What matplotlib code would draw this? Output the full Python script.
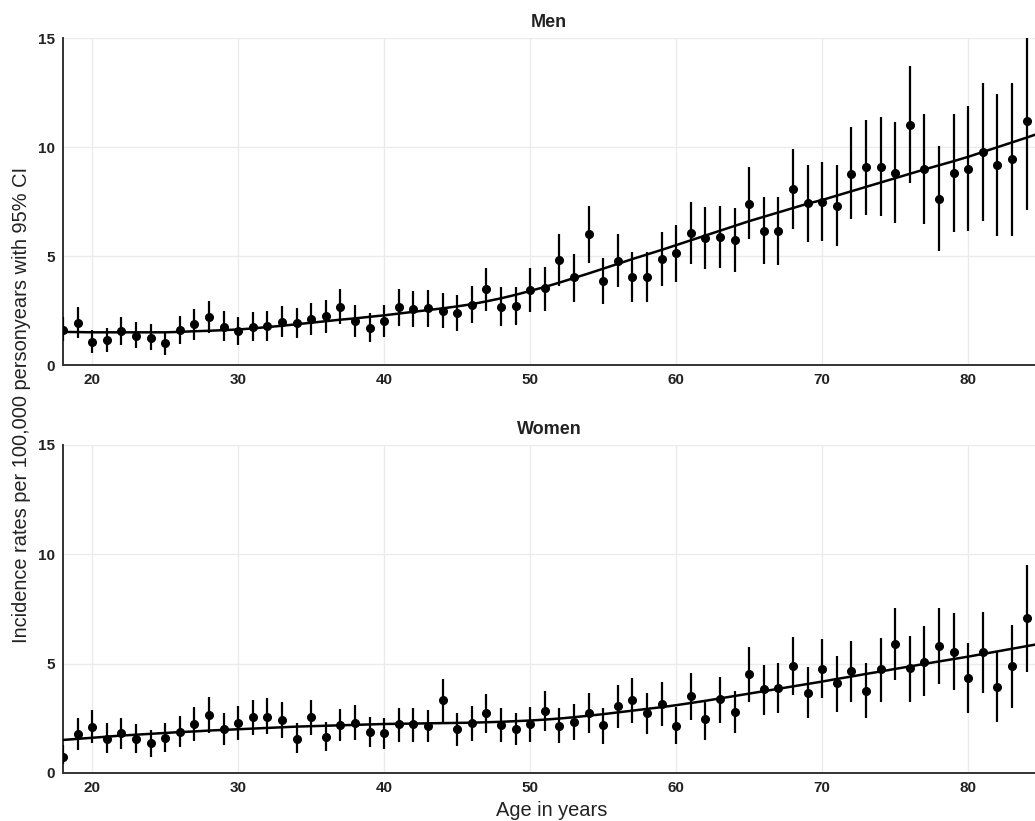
import matplotlib
matplotlib.use("Agg")
import matplotlib.pyplot as plt

plt.rcParams['font.family'] = ['Liberation Sans', 'DejaVu Sans']

# Age in years (one point per single year of age)
ages = list(range(18, 85))
# fitted curve is evaluated one year further so it runs to the panel edge
fit_ages = list(range(18, 86))

# Men: incidence per 100,000 personyears with 95% CI
men_rate = [1.6, 1.93, 1.06, 1.15, 1.56, 1.33, 1.24, 1.0, 1.6, 1.88,
            2.2, 1.74, 1.56, 1.74, 1.8, 1.97, 1.93, 2.1, 2.25, 2.66,
            2.02, 1.7, 2.02, 2.65, 2.56, 2.6, 2.5, 2.37, 2.75, 3.47,
            2.67, 2.72, 3.44, 3.52, 4.82, 4.03, 6.0, 3.85, 4.78, 4.05,
            4.05, 4.86, 5.15, 6.04, 5.81, 5.86, 5.73, 7.4, 6.16, 6.16,
            8.06, 7.42, 7.5, 7.3, 8.76, 9.07, 9.1, 8.83, 11.0, 9.0,
            7.62, 8.8, 9.0, 9.76, 9.18, 9.43, 11.2]
men_lower = [1.1, 1.24, 0.55, 0.6, 0.92, 0.78, 0.69, 0.46, 0.96, 1.15,
             1.47, 1.1, 0.92, 1.1, 1.1, 1.28, 1.24, 1.38, 1.47, 1.88,
             1.28, 1.05, 1.3, 1.79, 1.75, 1.75, 1.68, 1.56, 1.92, 2.48,
             1.8, 1.82, 2.44, 2.5, 3.62, 2.9, 4.67, 2.8, 3.56, 2.9,
             2.9, 3.62, 3.8, 4.62, 4.4, 4.43, 4.28, 5.76, 4.62, 4.6,
             6.23, 5.63, 5.69, 5.46, 6.68, 6.88, 6.83, 6.53, 8.34, 6.47,
             5.23, 6.09, 6.15, 6.62, 5.93, 5.93, 7.1]
men_upper = [2.2, 2.66, 1.6, 1.7, 2.2, 1.97, 1.88, 1.5, 2.25, 2.57,
             2.93, 2.48, 2.2, 2.45, 2.5, 2.7, 2.6, 2.84, 3.0, 3.49,
             2.75, 2.38, 2.75, 3.48, 3.4, 3.44, 3.3, 3.2, 3.62, 4.46,
             3.56, 3.6, 4.46, 4.5, 6.0, 5.09, 7.3, 4.92, 6.0, 5.18,
             5.18, 6.1, 6.4, 7.46, 7.23, 7.3, 7.18, 9.1, 7.72, 7.72,
             9.9, 9.17, 9.33, 9.17, 10.9, 11.24, 11.36, 11.13, 13.7, 11.5,
             10.06, 11.5, 11.88, 12.95, 12.43, 12.95, 15.4]
men_fit = [1.52, 1.51, 1.5, 1.5, 1.5, 1.5, 1.5, 1.5, 1.52, 1.55,
           1.57, 1.6, 1.63, 1.68, 1.74, 1.8, 1.87, 1.94, 2.01, 2.08,
           2.14, 2.21, 2.28, 2.36, 2.44, 2.52, 2.6, 2.69, 2.79, 2.92,
           3.06, 3.22, 3.4, 3.58, 3.78, 3.99, 4.2, 4.42, 4.64, 4.86,
           5.07, 5.28, 5.5, 5.72, 5.94, 6.16, 6.38, 6.6, 6.8, 7.0,
           7.2, 7.4, 7.57, 7.77, 7.97, 8.17, 8.37, 8.57, 8.77, 8.97,
           9.16, 9.35, 9.55, 9.77, 9.99, 10.21, 10.43, 10.66]

# Women
women_rate = [0.75, 1.77, 2.12, 1.55, 1.81, 1.55, 1.36, 1.62, 1.89, 2.24,
              2.65, 2.0, 2.3, 2.55, 2.58, 2.42, 1.55, 2.55, 1.66, 2.19,
              2.3, 1.86, 1.81, 2.22, 2.22, 2.15, 3.34, 2.0, 2.3, 2.73,
              2.19, 2.0, 2.22, 2.83, 2.15, 2.31, 2.73, 2.19, 3.06, 3.34,
              2.73, 3.15, 2.15, 3.52, 2.45, 3.37, 2.78, 4.53, 3.83, 3.9,
              4.89, 3.67, 4.76, 4.1, 4.66, 3.75, 4.76, 5.88, 4.79, 5.09,
              5.82, 5.55, 4.36, 5.55, 3.95, 4.89, 7.07]
women_lower = [0.4, 1.05, 1.36, 0.9, 1.08, 0.9, 0.75, 0.97, 1.2, 1.48,
               1.81, 1.28, 1.51, 1.74, 1.77, 1.62, 0.9, 1.74, 1.02, 1.48,
               1.51, 1.18, 1.1, 1.43, 1.43, 1.4, 2.35, 1.23, 1.48, 1.84,
               1.4, 1.28, 1.43, 1.93, 1.36, 1.51, 1.84, 1.34, 2.04, 2.3,
               1.78, 2.15, 1.34, 2.42, 1.53, 2.3, 1.81, 3.26, 2.65, 2.73,
               3.57, 2.5, 3.41, 2.8, 3.26, 2.5, 3.26, 4.25, 3.26, 3.52,
               4.05, 3.8, 2.76, 3.64, 2.31, 2.98, 4.63]
women_upper = [1.3, 2.5, 2.88, 2.27, 2.5, 2.25, 1.97, 2.3, 2.6, 3.03,
               3.49, 2.76, 3.08, 3.34, 3.41, 3.23, 2.27, 3.34, 2.35, 2.93,
               3.11, 2.55, 2.5, 2.96, 2.98, 2.9, 4.28, 2.73, 3.08, 3.61,
               2.98, 2.76, 3.0, 3.75, 2.95, 3.15, 3.64, 2.95, 4.02, 4.33,
               3.64, 4.14, 3.03, 4.56, 3.34, 4.4, 3.75, 5.78, 4.94, 5.05,
               6.23, 4.83, 6.11, 5.36, 6.05, 5.01, 6.16, 7.53, 6.28, 6.73,
               7.56, 7.33, 5.96, 7.38, 5.59, 6.79, 9.51]
women_fit = [1.51, 1.56, 1.61, 1.66, 1.71, 1.75, 1.79, 1.83, 1.87, 1.9,
             1.94, 1.97, 2.0, 2.03, 2.06, 2.09, 2.12, 2.14, 2.16, 2.18,
             2.2, 2.22, 2.24, 2.25, 2.26, 2.27, 2.28, 2.29, 2.3, 2.32,
             2.34, 2.37, 2.4, 2.44, 2.49, 2.55, 2.62, 2.69, 2.77, 2.85,
             2.93, 3.01, 3.1, 3.2, 3.3, 3.41, 3.52, 3.63, 3.74, 3.85,
             3.96, 4.07, 4.18, 4.3, 4.41, 4.53, 4.64, 4.76, 4.87, 4.99,
             5.1, 5.21, 5.32, 5.44, 5.56, 5.68, 5.8, 5.92]

x_ticks = [20, 30, 40, 50, 60, 70, 80]
y_ticks = [0, 5, 10, 15]

fig = plt.figure(figsize=(10.35, 8.21), dpi=100)
ax_men = fig.add_axes([0.0609, 0.5554, 0.9391, 0.3983])
ax_women = fig.add_axes([0.0609, 0.0585, 0.9391, 0.3995])

panels = [(ax_men, "Men", men_rate, men_lower, men_upper, men_fit),
          (ax_women, "Women", women_rate, women_lower, women_upper, women_fit)]

for ax, title, rate, lower, upper, fit in panels:
    # confidence intervals as plain vertical lines
    ax.vlines(ages, lower, upper, color="black", linewidth=1.6, zorder=3)
    ax.plot(ages, rate, "o", color="black", markersize=5.5, zorder=4)
    ax.plot(fit_ages, fit, "-", color="black", linewidth=1.8, zorder=5)

    ax.set_xlim(18, 84.58)
    ax.set_ylim(0, 15)
    ax.set_xticks(x_ticks)
    ax.set_yticks(y_ticks)
    ax.grid(True, color="#ebebeb", linewidth=1.0)
    ax.set_axisbelow(True)
    ax.tick_params(length=0, labelsize=11, colors="#222222", pad=6)
    for lab in ax.get_xticklabels() + ax.get_yticklabels():
        lab.set_fontweight("bold")
    for side in ["top", "right"]:
        ax.spines[side].set_visible(False)
    for side in ["left", "bottom"]:
        ax.spines[side].set_color("#333333")
        ax.spines[side].set_linewidth(1.4)
    ax.set_title(title, fontsize=13, fontweight="bold", color="#222222", pad=8)

fig.text(0.012, 0.507, "Incidence rates per 100,000 personyears with 95% CI",
         rotation=90, va="center", ha="left", fontsize=14.4, color="#222222")
fig.text(0.533, 0.001, "Age in years", ha="center", va="bottom",
         fontsize=14.4, color="#222222")

fig.savefig("out.png", dpi=100)
